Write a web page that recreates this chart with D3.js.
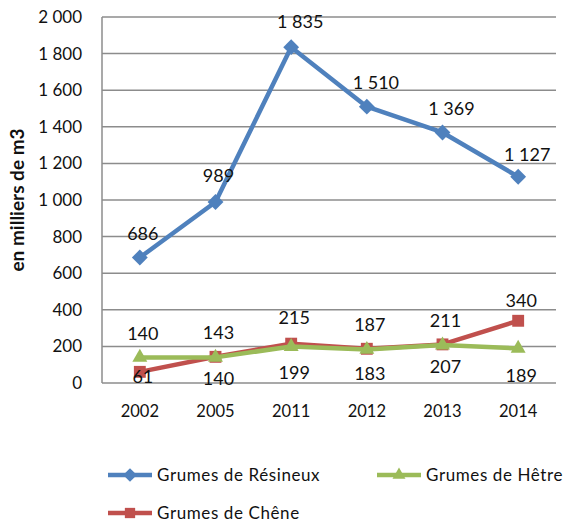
<!DOCTYPE html>
<html>
<head>
<meta charset="utf-8">
<script src="https://cdn.jsdelivr.net/npm/d3@7"></script>
<style>
  body { margin: 0; background: #fff; }
  svg text { font-family: Lato, "Open Sans", sans-serif; fill: #111; }
</style>
</head>
<body>
<div class="graph"></div>
<script>
const years = ['2002', '2005', '2011', '2012', '2013', '2014'];
const resineux = [686, 989, 1835, 1510, 1369, 1127];
const chene = [61, 143, 215, 187, 211, 340];
const hetre = [140, 140, 199, 183, 207, 189];
const yTicks = [0, 200, 400, 600, 800, 1000, 1200, 1400, 1600, 1800, 2000];
// label shift above the marker (negative = below)
const resineuxShift = [24, 26, 25, 24, 24, 22];
const cheneShift = [-5, 24, 26, 24, 24, 20];
const hetreShift = [24, -21, -26, -24, -22, -27];

const w = 573;
const h = 525;
const padding = { top: 17, right: 17, bottom: 142, left: 102 };

const series = [
  { name: 'Grumes de Résineux', values: resineux, color: '#4F81BD', symbol: d3.symbolDiamond2, size: 160, shift: resineuxShift },
  { name: 'Grumes de Chêne', values: chene, color: '#C0504D', symbol: d3.symbolSquare2, size: 180, shift: cheneShift },
  { name: 'Grumes de Hêtre', values: hetre, color: '#9BBB59', symbol: d3.symbolTriangle2, size: 160, shift: hetreShift }
];

const xScale = d3.scaleBand()
  .domain(years)
  .range([padding.left, w - padding.right]);
const yScale = d3.scaleLinear()
  .domain([0, 2000])
  .range([h - padding.bottom, padding.top]);

const fmt = (v) => d3.format(',')(v).replace(/,/g, '\u00a0');
const cx = (i) => xScale(years[i]) + xScale.bandwidth() / 2;

const svg = d3.select('.graph')
  .append('svg')
  .attr('width', w)
  .attr('height', h);

// grid lines
svg.append('g')
  .selectAll('line')
  .data(yTicks)
  .join('line')
  .attr('x1', padding.left)
  .attr('x2', w - padding.right)
  .attr('y1', (d) => yScale(d))
  .attr('y2', (d) => yScale(d))
  .attr('stroke', '#8c8c8c')
  .attr('stroke-width', 1.5);

svg.append('line')
  .attr('x1', padding.left)
  .attr('x2', padding.left)
  .attr('y1', yScale(2000))
  .attr('y2', yScale(0))
  .attr('stroke', '#8c8c8c')
  .attr('stroke-width', 1.5);

const yAxis = svg.append('g')
  .attr('class', 'y-axis')
  .attr('transform', `translate(${padding.left}, 0)`)
  .call(d3.axisLeft(yScale).tickValues(yTicks).tickSize(0).tickPadding(20).tickFormat(fmt));
yAxis.select('.domain').remove();
yAxis.selectAll('text').style('font-size', '17px');

const xAxis = svg.append('g')
  .attr('class', 'x-axis')
  .attr('transform', `translate(0, ${h - padding.bottom})`)
  .call(d3.axisBottom(xScale).tickSize(0).tickPadding(22));
xAxis.select('.domain').remove();
xAxis.selectAll('text').style('font-size', '16.5px');

svg.append('text')
  .attr('transform', `translate(17, ${(yScale(0) + yScale(2000)) / 2}) rotate(-90)`)
  .attr('text-anchor', 'middle')
  .attr('dy', '0.35em')
  .style('font-size', '19px')
  .style('font-weight', 'bold')
  .text('en milliers de m3');

const line = d3.line()
  .x((d, i) => cx(i))
  .y((d) => yScale(d));

series.forEach((s) => {
  svg.append('path')
    .datum(s.values)
    .attr('fill', 'none')
    .attr('stroke', s.color)
    .attr('stroke-width', 4.5)
    .attr('stroke-linejoin', 'round')
    .attr('d', line);

  svg.append('g')
    .selectAll('path')
    .data(s.values)
    .join('path')
    .attr('transform', (d, i) => `translate(${cx(i)}, ${yScale(d)})`)
    .attr('d', d3.symbol().type(s.symbol).size(s.size))
    .attr('fill', s.color);
});

series.forEach((s) => {
  svg.append('g')
    .selectAll('text')
    .data(s.values)
    .join('text')
    .attr('x', (d, i) => cx(i) + (d >= 1000 ? 9 : 3))
    .attr('y', (d, i) => yScale(d) - s.shift[i])
    .attr('dy', '0.35em')
    .attr('text-anchor', 'middle')
    .style('font-size', '18px')
    .text(fmt);
});

// legend
const legendPos = [[108, 475], [108, 513], [377, 475]];
series.forEach((s, k) => {
  const [lx, ly] = legendPos[k];
  const g = svg.append('g').attr('transform', `translate(${lx}, ${ly})`);
  g.append('line')
    .attr('x1', 0).attr('x2', 44)
    .attr('stroke', s.color)
    .attr('stroke-width', 4.5);
  g.append('path')
    .attr('transform', 'translate(22, 0)')
    .attr('d', d3.symbol().type(s.symbol).size(s.size * 0.75))
    .attr('fill', s.color);
  g.append('text')
    .attr('x', 49)
    .attr('dy', '0.35em')
    .style('font-size', '17px')
    .style('letter-spacing', '0.6px')
    .text(s.name);
});
</script>
</body>
</html>
